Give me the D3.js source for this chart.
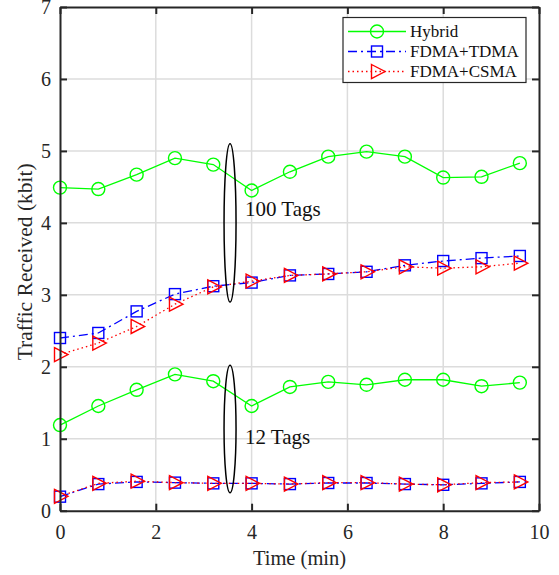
<!DOCTYPE html>
<html>
<head>
<meta charset="utf-8">
<script src="https://cdn.jsdelivr.net/npm/d3@7"></script>
<style>
  body { margin: 0; background: #fff; }
  svg { font-family: "Liberation Serif", "Times New Roman", serif; }
  .grid line { stroke: #dcdcdc; stroke-width: 1.5; }
</style>
</head>
<body>
<script>
// time axis (min)
var times = [0, 0.8, 1.6, 2.4, 3.2, 4.0, 4.8, 5.6, 6.4, 7.2, 8.0, 8.8, 9.6];

// 100 tags
var hybrid100 = [4.49, 4.47, 4.67, 4.90, 4.81, 4.45, 4.71, 4.92, 4.99, 4.92, 4.63, 4.64, 4.83];
var tdma100 = [2.40, 2.47, 2.77, 3.01, 3.12, 3.17, 3.27, 3.29, 3.32, 3.41, 3.47, 3.51, 3.54];
var csma100 = [2.17, 2.33, 2.56, 2.87, 3.11, 3.19, 3.27, 3.29, 3.32, 3.39, 3.37, 3.39, 3.44];

// 12 tags
var hybrid12 = [1.19, 1.455, 1.68, 1.895, 1.80, 1.455, 1.72, 1.79, 1.75, 1.82, 1.82, 1.73, 1.78];
var tdma12 = [0.195, 0.37, 0.40, 0.39, 0.38, 0.38, 0.37, 0.385, 0.385, 0.37, 0.36, 0.38, 0.40];
var csma12 = [0.20, 0.38, 0.41, 0.39, 0.38, 0.38, 0.37, 0.39, 0.39, 0.37, 0.36, 0.39, 0.40];

var xTicks = [0, 2, 4, 6, 8, 10];
var yTicks = [0, 1, 2, 3, 4, 5, 6, 7];

var width = 559, height = 575;
var pLeft = 60, pRight = 539, pTop = 7, pBottom = 510.7;

var svg = d3.select("body").append("svg")
    .attr("width", width)
    .attr("height", height);

var x = d3.scaleLinear().domain([0, 10]).range([pLeft, pRight]);
var y = d3.scaleLinear().domain([0, 7]).range([pBottom, pTop]);

//grid lines
var grid = svg.append("g").attr("class", "grid");
grid.selectAll(".gx").data(xTicks.slice(1, -1)).enter().append("line")
    .attr("x1", d => x(d)).attr("x2", d => x(d))
    .attr("y1", pTop).attr("y2", pBottom);
grid.selectAll(".gy").data(yTicks.slice(1, -1)).enter().append("line")
    .attr("y1", d => y(d)).attr("y2", d => y(d))
    .attr("x1", pLeft).attr("x2", pRight);

//series styling
var series = [
  {name: "Hybrid", color: "#00ff00", dash: null, marker: "circle"},
  {name: "FDMA+TDMA", color: "#0000ff", dash: "9,4,2,4", marker: "square"},
  {name: "FDMA+CSMA", color: "#ff0000", dash: "1.5,3", marker: "triangle"}
];
var groups = [
  [hybrid100, tdma100, csma100],
  [hybrid12, tdma12, csma12]
];

var line = d3.line().x((d, i) => x(times[i])).y(d => y(d));

function drawMarker(g, type, cx, cy, color) {
  if (type === "circle") {
    g.append("circle").attr("cx", cx).attr("cy", cy).attr("r", 6.5)
      .attr("fill", "none").attr("stroke", color).attr("stroke-width", 1.4);
  } else if (type === "square") {
    g.append("rect").attr("x", cx - 5.5).attr("y", cy - 5.5)
      .attr("width", 11).attr("height", 11)
      .attr("fill", "none").attr("stroke", color).attr("stroke-width", 1.4);
  } else {
    g.append("path")
      .attr("d", "M" + (cx - 5.5) + "," + (cy - 7) + "L" + (cx + 8) + "," + cy + "L" + (cx - 5.5) + "," + (cy + 7) + "Z")
      .attr("fill", "none").attr("stroke", color).attr("stroke-width", 1.4);
  }
}

// draw order: hybrid, tdma, csma
groups.forEach(function(grp) {
  grp.forEach(function(vals, k) {
    var s = series[k];
    var g = svg.append("g");
    g.append("path").datum(vals)
      .attr("d", line)
      .attr("fill", "none")
      .attr("stroke", s.color)
      .attr("stroke-width", 1.3)
      .attr("stroke-dasharray", s.dash);
    vals.forEach(function(v, i) {
      drawMarker(g, s.marker, x(times[i]), y(v), s.color);
    });
  });
});

//axes box
var fmt = d3.format("d");
var axB = d3.axisBottom(x).tickValues(xTicks).tickFormat(fmt).tickSizeInner(-7).tickSizeOuter(0).tickPadding(14);
var axT = d3.axisTop(x).tickValues(xTicks).tickSizeInner(-7).tickSizeOuter(0).tickFormat("");
var axL = d3.axisLeft(y).tickValues(yTicks).tickFormat(fmt).tickSizeInner(-7).tickSizeOuter(0).tickPadding(9);
var axR = d3.axisRight(y).tickValues(yTicks).tickSizeInner(-7).tickSizeOuter(0).tickFormat("");

function styleAxis(g) {
  g.select(".domain").attr("stroke", "#262626").attr("stroke-width", 2);
  g.selectAll(".tick line").attr("stroke", "#262626").attr("stroke-width", 2);
  g.selectAll("text").attr("fill", "#262626")
    .style("font-family", "Liberation Serif").style("font-size", "20px");
}
svg.append("g").attr("transform", "translate(0," + pBottom + ")").call(axB).call(styleAxis);
svg.append("g").attr("transform", "translate(0," + pTop + ")").call(axT).call(styleAxis);
svg.append("g").attr("transform", "translate(" + pLeft + ",0)").call(axL).call(styleAxis);
svg.append("g").attr("transform", "translate(" + pRight + ",0)").call(axR).call(styleAxis);

//axis labels
svg.append("text")
  .attr("x", (pLeft + pRight) / 2).attr("y", 565)
  .attr("text-anchor", "middle")
  .attr("fill", "#262626").style("font-size", "20.5px")
  .text("Time (min)");
svg.append("text")
  .attr("transform", "translate(32," + ((pTop + pBottom) / 2 + 3) + ") rotate(-90)")
  .attr("text-anchor", "middle")
  .attr("fill", "#262626").style("font-size", "21.5px")
  .text("Traffic Received (kbit)");

//ellipses and annotations
var ell = [
  {cx: 3.55, cy: (5.1 + 2.9) / 2, ry: 1.1, label: "100 Tags", ly: 4.1},
  {cx: 3.55, cy: (2.02 + 0.25) / 2, ry: 0.885, label: "12 Tags", ly: 0.93}
];
ell.forEach(function(e) {
  svg.append("ellipse")
    .attr("cx", x(e.cx)).attr("cy", y(e.cy))
    .attr("rx", 6).attr("ry", y(0) - y(e.ry))
    .attr("fill", "none").attr("stroke", "#000").attr("stroke-width", 1.5);
  svg.append("text")
    .attr("x", 245).attr("y", y(e.ly))
    .attr("fill", "#111").style("font-size", "21px")
    .text(e.label);
});

//legend
var lg = svg.append("g").attr("transform", "translate(343,17.5)");
lg.append("rect").attr("width", 183).attr("height", 65)
  .attr("fill", "#fff").attr("stroke", "#262626").attr("stroke-width", 1.2);
series.forEach(function(s, i) {
  var yy = 14 + i * 20;
  lg.append("line").attr("x1", 5).attr("x2", 63).attr("y1", yy).attr("y2", yy)
    .attr("stroke", s.color).attr("stroke-width", 1.3).attr("stroke-dasharray", s.dash);
  drawMarker(lg, s.marker, 34, yy, s.color);
  lg.append("text").attr("x", 67).attr("y", yy + 5.5)
    .attr("fill", "#111").style("font-size", "17px")
    .text(s.name);
});
</script>
</body>
</html>
